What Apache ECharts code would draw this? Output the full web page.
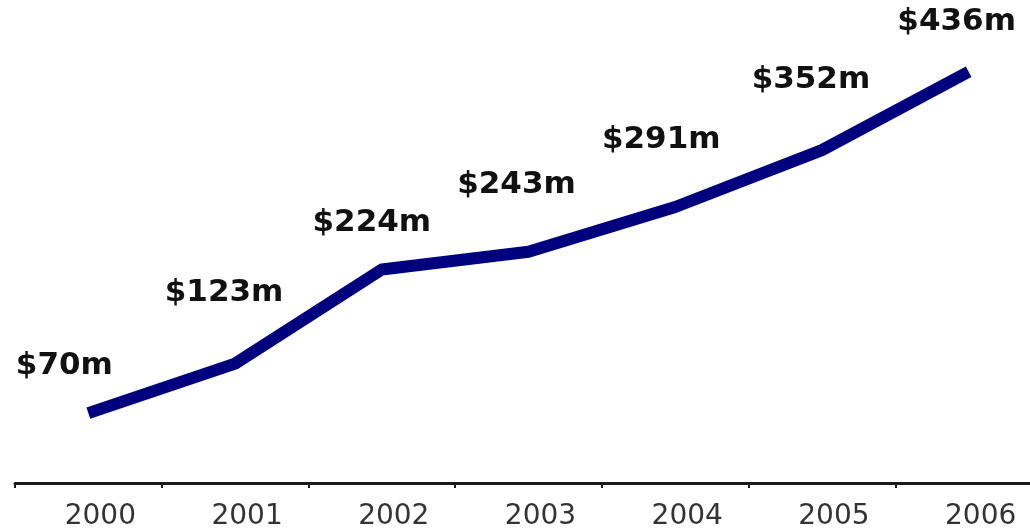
<!DOCTYPE html>
<html>
<head>
<meta charset="utf-8">
<script src="https://cdn.jsdelivr.net/npm/echarts@6/dist/echarts.min.js"></script>
<style>
  html, body { margin: 0; padding: 0; background: #ffffff; }
  #chart { width: 1030px; height: 529px; }
</style>
</head>
<body>
<div id="chart"></div>
<script>
// Annual revenue, US$ millions
const years = ['2000', '2001', '2002', '2003', '2004', '2005', '2006'];
const revenue = [70, 123, 224, 243, 291, 352, 436];
const valueLabels = ['$70m', '$123m', '$224m', '$243m', '$291m', '$352m', '$436m'];

// Where each value label sits relative to its point (px)
const labelShift = [[-24, -47], [-11, -71], [-10, -47], [-12, -67], [-14, -67], [-11, -70], [-12, -50]];

const seriesData = revenue.map((v, i) => ({
  value: v,
  label: { offset: labelShift[i], formatter: valueLabels[i] }
}));

const chart = echarts.init(document.getElementById('chart'), null, { renderer: 'canvas' });
chart.setOption({
  animation: false,
  backgroundColor: '#ffffff',
  grid: { left: 15, right: -12, top: 0, bottom: 46, outerBoundsMode: 'none', containLabel: false },
  xAxis: {
    type: 'category',
    data: years,
    boundaryGap: true,
    axisLine: { show: true, onZero: false, lineStyle: { color: '#1a1a1a', width: 3 } },
    axisTick: { show: true, length: 5, lineStyle: { color: '#1a1a1a', width: 2 } },
    axisLabel: {
      color: '#333333',
      fontFamily: 'DejaVu Sans',
      fontSize: 28,
      margin: 20,
      padding: [0, 0, 0, 24]
    },
    splitLine: { show: false }
  },
  yAxis: {
    type: 'value',
    min: -5,
    max: 513,
    show: false,
    splitLine: { show: false }
  },
  series: [{
    type: 'line',
    data: seriesData,
    showSymbol: true,
    symbol: 'circle',
    symbolSize: 0.1,
    itemStyle: { color: '#00007f' },
    lineStyle: { color: '#00007f', width: 12, join: 'round', cap: 'butt' },
    label: {
      show: true,
      position: 'inside',
      align: 'center',
      verticalAlign: 'middle',
      color: '#111111',
      fontFamily: 'DejaVu Sans',
      fontWeight: 'bold',
      fontSize: 31
    }
  }]
});
</script>
</body>
</html>
